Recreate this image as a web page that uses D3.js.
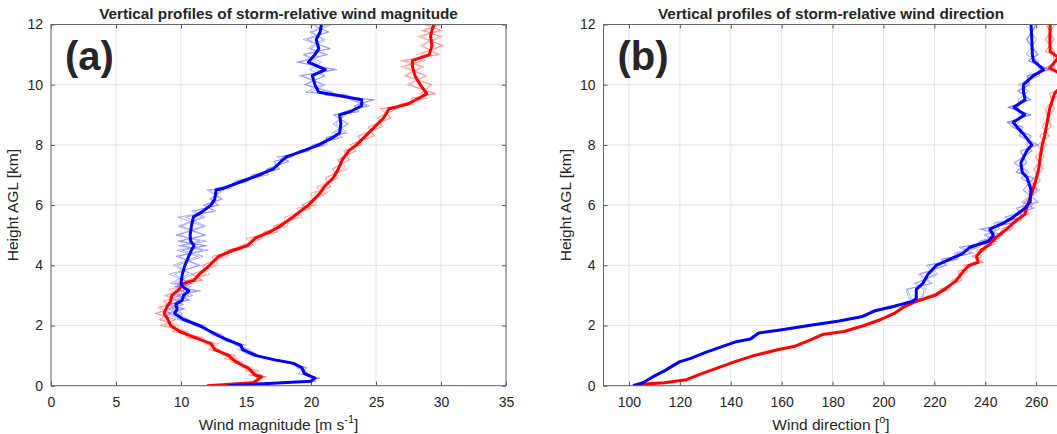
<!DOCTYPE html>
<html>
<head>
<meta charset="utf-8">
<script src="https://cdn.jsdelivr.net/npm/d3@7"></script>
<style>
  body { margin: 0; background: #fff; }
  svg { display: block; }
  text { font-family: Arial, "Liberation Sans", sans-serif; fill: #262626; }
</style>
</head>
<body>
<svg id="chart" width="1057" height="434"></svg>
<script>
// ---- panel (a): storm-relative wind magnitude [m/s] vs height [km] ----
const blueMagH = [0,0.15,0.25,0.4,0.6,0.75,0.85,1.0,1.2,1.35,1.5,1.7,2.0,2.2,2.4,2.55,2.7,2.85,3.0,3.15,3.3,3.4,3.7,4.0,4.3,4.5,4.65,4.8,5.0,5.3,5.6,5.8,6.0,6.2,6.5,6.55,6.8,7.0,7.2,7.45,7.6,7.8,8.0,8.25,8.4,8.7,9.0,9.1,9.3,9.5,9.65,9.75,10.0,10.3,10.5,10.75,11.0,11.2,11.5,11.75,12.0];
const blueMag  = [13.6,20.0,20.3,19.5,19.3,18.6,17.3,15.8,14.75,14.6,13.7,12.7,11.4,10.2,9.5,9.7,9.6,10.1,10.2,10.6,10.1,10.0,10.1,10.3,10.6,10.8,11.0,10.75,10.7,10.8,10.95,11.7,12.3,12.6,12.7,13.2,14.75,16.0,17.1,17.7,18.1,19.4,20.6,21.7,22.2,22.3,22.2,23.0,23.9,23.9,22.0,20.6,20.3,20.1,21.1,19.8,20.3,20.6,20.4,20.7,20.8];
const redMagH  = [0,0.1,0.3,0.35,0.5,0.6,0.8,0.9,1.0,1.2,1.4,1.6,1.8,2.0,2.2,2.4,2.6,2.8,3.0,3.2,3.4,3.5,3.7,4.0,4.3,4.5,4.65,4.9,5.1,5.3,5.6,5.9,6.0,6.4,6.6,6.9,7.2,7.5,7.8,8.0,8.3,8.6,8.9,9.2,9.35,9.55,9.7,10.0,10.3,10.6,10.8,11.0,11.3,11.6,11.8,12.0];
const redMag   = [12.0,15.6,16.2,15.7,15.4,15.1,14.2,13.9,13.7,12.6,12.3,11.1,9.9,9.2,9.0,8.7,8.9,9.2,9.3,9.85,10.2,11.0,11.4,12.2,12.9,14.0,15.1,15.7,16.8,17.6,18.6,19.5,19.8,20.7,21.0,21.7,22.1,22.4,22.9,23.5,24.2,24.9,25.6,26.0,27.4,28.3,28.9,28.4,28.0,27.8,27.8,29.1,29.3,29.2,29.3,29.45];

// ensemble members, offsets from the mean in tenths of m/s
const blueMagMembers = [
  [0,2,-3,4,-2,3,-4,2,5,-3,4,-2,3,-5,6,-4,5,-7,4,-6,7,-5,8,-9,7,-11,8,-10,12,-8,9,-7,5,-4,6,-3,5,-6,4,-5,3,-4,6,-5,4,-6,5,-3,6,-7,9,-6,8,-10,7,-9,8,-6,7,-8,5],
  [0,-3,4,-2,3,-4,2,-3,-2,4,-3,5,-4,2,-5,6,-4,5,-8,6,-5,7,-6,10,-8,9,-12,7,-9,11,-6,8,-4,6,-5,4,-6,3,-5,6,-4,5,-3,4,-6,5,-4,6,-5,8,-6,9,-8,10,-7,6,-9,8,-7,6,-6],
  [0,4,-2,3,-4,2,5,-3,-4,2,-5,3,-2,4,3,-7,6,-4,7,-5,4,-8,5,-6,11,-7,10,-8,11,-10,7,-9,6,-3,4,-6,3,-4,5,-6,5,-3,4,-5,6,-4,3,-5,4,-9,7,-10,6,-8,9,-7,10,-8,5,-6,8],
  [0,-4,3,-5,4,-2,3,-4,3,-5,2,-4,5,-3,-7,5,-8,6,-5,9,-6,8,-10,12,-10,13,-9,12,-11,9,-12,10,-6,5,-7,6,-4,7,-5,6,-7,4,-5,7,-4,6,-5,7,-6,10,-9,11,-7,9,-12,10,-8,9,-10,7,-9]
];
const redMagMembers = [
  [0,3,-4,5,-3,4,-2,5,-4,3,-5,6,-5,7,-6,5,-7,6,-4,7,-5,6,-6,4,-5,3,-6,5,-4,6,-3,5,-5,4,-6,3,-4,5,-3,4,-5,6,-4,5,-6,4,-5,8,-7,9,-6,8,-9,7,-6,5],
  [0,-4,3,-5,4,-3,5,-2,4,-5,3,-6,7,-5,6,-7,5,-6,7,-4,6,-5,5,-5,4,-6,3,-4,6,-5,4,-3,6,-4,5,-6,4,-3,5,-5,6,-4,5,-6,4,-5,6,-8,9,-6,7,-10,8,-7,6,-5],
  [0,5,-3,4,-5,2,-4,3,-5,4,-3,5,-6,4,-7,6,-5,7,-6,5,-4,7,-5,6,-3,5,-4,6,-5,3,-6,4,-5,6,-3,4,-5,6,-4,3,-6,5,-5,6,-4,6,-4,9,-8,7,-9,6,-7,9,-8,6],
  [0,-5,4,-3,6,-4,3,-6,5,-4,6,-7,5,-8,6,-6,8,-5,6,-8,7,-6,8,-6,7,-4,5,-7,6,-5,7,-6,4,-7,5,-6,7,-4,6,-5,7,-5,6,-7,5,-6,7,-10,8,-9,10,-7,9,-10,8,-7]
];

// ---- panel (b): storm-relative wind direction [deg] vs height [km] ----
const blueDirH = [0,0.1,0.3,0.5,0.7,0.8,0.9,1.1,1.3,1.45,1.55,1.75,1.85,2.0,2.15,2.3,2.5,2.6,2.8,2.9,3.2,3.4,3.7,4.0,4.2,4.4,4.6,4.8,5.0,5.2,5.4,5.6,5.9,6.1,6.5,6.9,7.1,7.4,7.8,8.0,8.3,8.6,8.75,9.0,9.25,9.5,9.8,10.0,10.3,10.5,10.8,11.0,11.5,12.0];
const blueDir  = [101.6,105.5,109.5,114.1,118.0,120.0,124.0,129.9,136.5,141.7,147.7,151.0,159.5,170.7,182.6,191.8,197.0,202.3,211.5,212.9,212.9,215.5,217.5,220.8,226.0,231.3,233.9,241.2,243.2,241.8,247.1,251.0,255.6,257.6,258.0,256.5,254.5,254.0,256.3,258.3,255.6,252.4,251.0,255.5,251.3,255.6,255.0,255.0,258.9,262.9,258.9,258.5,258.3,258.0];
const redDirH  = [0,0.05,0.1,0.2,0.4,0.6,0.8,1.0,1.2,1.3,1.5,1.7,1.8,2.0,2.2,2.4,2.6,2.8,3.0,3.2,3.5,3.8,4.0,4.1,4.3,4.5,4.7,4.9,5.2,5.5,5.7,6.0,6.5,6.8,7.2,7.6,8.0,8.3,8.6,9.2,9.7,10.0,10.35,10.55,10.9,11.1,11.5,12.0];
const redDir   = [102.2,104.9,114.0,122.6,128.6,135.2,141.7,149.0,158.8,164.8,170.7,176.0,184.5,192.4,199.0,204.3,207.6,212.9,220.1,224.0,228.7,231.3,233.7,237.2,236.6,238.5,241.8,243.8,248.4,252.4,255.6,256.6,258.7,259.8,261.0,261.6,262.4,263.3,264.0,265.3,267.2,270.5,270.0,265.3,268.8,265.5,265.4,265.5];

// ensemble members, offsets from the mean in tenths of a degree
const blueDirMembers = [
  [0,8,-6,10,-8,7,-10,9,-7,10,-8,9,-6,8,-10,12,-15,18,-20,25,30,-35,40,-30,35,-25,38,-30,32,-40,28,-35,30,-25,35,-25,20,-28,22,-18,25,-20,24,-22,18,-26,20,-22,25,-18,20,-24,18,-20],
  [0,-7,9,-8,6,-10,8,-6,10,-9,7,-8,10,-7,12,-10,18,-15,22,-20,-35,30,-38,35,-28,40,-32,30,-36,25,-38,32,-28,35,-30,22,-25,20,-24,26,-20,18,-25,22,-20,24,-18,22,-26,20,-18,22,-20,18],
  [0,6,-9,7,-10,9,-7,8,-9,6,10,-7,-9,10,-8,15,-12,20,-25,15,40,-25,30,-40,28,-35,25,-38,40,-30,35,-28,38,-32,25,-20,28,-22,18,-25,22,-18,-24,26,-22,18,-20,26,-22,24,-20,18,-22,24],
  [0,-9,7,-6,9,-8,10,-7,8,-10,9,-6,8,-12,10,-14,15,-22,18,-30,-40,38,-30,42,-35,30,-42,36,-30,38,-28,40,-35,28,-32,28,-22,25,-26,20,-24,26,-20,22,-25,20,-24,18,-22,26,-20,24,-18,20]
];
const redDirMembers = [
  [0,6,-8,7,-5,8,-7,6,-8,5,-7,8,-6,7,-8,6,-9,10,15,-20,18,-22,20,-15,22,-18,20,-16,18,-20,15,-18,15,-18,20,-15,18,-20,16,-18,15,-20,18,-16,20,-18,15,-16],
  [0,-7,6,-8,7,-6,8,-5,7,-8,6,-7,8,-6,5,-8,10,-9,-18,22,-15,20,-22,18,-20,15,-22,20,-18,16,-20,18,-16,20,-18,15,-20,18,-15,20,-18,16,-15,20,-18,16,-20,18],
  [0,8,-5,6,-8,5,-6,8,-7,6,-5,7,-8,6,-7,8,-6,-8,20,-15,22,-18,15,-20,18,-22,16,-18,22,-15,18,-20,18,-15,16,-20,15,-18,20,-16,18,-15,20,-18,15,-20,18,-15],
  [0,-6,8,-7,6,-8,5,-7,8,-6,7,-5,6,-8,7,-6,9,-10,-22,18,-20,15,-18,22,-16,20,-18,15,-20,18,-16,20,-18,16,-20,18,-15,20,-18,16,-20,18,-16,15,-20,18,-15,18]
];

const heightTicks = [0, 2, 4, 6, 8, 10, 12];
const magTicks = [0, 5, 10, 15, 20, 25, 30, 35];
const dirTicks = [100, 120, 140, 160, 180, 200, 220, 240, 260];

const svg = d3.select('#chart');
const plotTop = 24.5, plotBottom = 385.7;

const panels = [
  { id: 'a', left: 51, right: 506, domain: [0, 35], ticks: magTicks,
    title: 'Vertical profiles of storm-relative wind magnitude',
    xlabel: ['Wind magnitude [m s', '-1', ']'],
    series: [
      { h: redMagH, v: redMag, members: redMagMembers, color: '#ff0000', pale: '#ff7070' },
      { h: blueMagH, v: blueMag, members: blueMagMembers, color: '#0000ff', pale: '#7070ff' }
    ] },
  { id: 'b', left: 603.5, right: 1061.6, domain: [90, 270], ticks: dirTicks,
    title: 'Vertical profiles of storm-relative wind direction',
    xlabel: ['Wind direction [', 'o', ']'],
    series: [
      { h: redDirH, v: redDir, members: redDirMembers, color: '#ff0000', pale: '#ff7070' },
      { h: blueDirH, v: blueDir, members: blueDirMembers, color: '#0000ff', pale: '#7070ff' }
    ] }
];

function drawPanel(p){
  const x = d3.scaleLinear().domain(p.domain).range([p.left, p.right]);
  const y = d3.scaleLinear().domain([0, 12]).range([plotBottom, plotTop]);
  const g = svg.append('g');

  g.append('clipPath').attr('id', 'clip-' + p.id)
    .append('rect').attr('x', p.left).attr('y', plotTop)
    .attr('width', p.right - p.left).attr('height', plotBottom - plotTop);

  // grid
  g.selectAll('.gx').data(p.ticks).enter().append('line')
    .attr('x1', d => x(d)).attr('x2', d => x(d)).attr('y1', plotTop).attr('y2', plotBottom)
    .attr('stroke', '#e4e4e4').attr('stroke-width', 1);
  g.selectAll('.gy').data(heightTicks).enter().append('line')
    .attr('x1', p.left).attr('x2', p.right).attr('y1', d => y(d)).attr('y2', d => y(d))
    .attr('stroke', '#e4e4e4').attr('stroke-width', 1);

  // axes with inward ticks (all four sides)
  const tickLen = 4;
  g.append('g').attr('transform', `translate(0,${plotBottom})`)
    .call(d3.axisBottom(x).tickValues(p.ticks).tickSizeInner(-tickLen).tickSizeOuter(0).tickPadding(11));
  g.append('g').attr('transform', `translate(0,${plotTop})`)
    .call(d3.axisTop(x).tickValues(p.ticks).tickSizeInner(-tickLen).tickSizeOuter(0).tickFormat(''));
  g.append('g').attr('transform', `translate(${p.left},0)`)
    .call(d3.axisLeft(y).tickValues(heightTicks).tickSizeInner(-tickLen).tickSizeOuter(0).tickPadding(8));
  g.append('g').attr('transform', `translate(${p.right},0)`)
    .call(d3.axisRight(y).tickValues(heightTicks).tickSizeInner(-tickLen).tickSizeOuter(0).tickFormat(''));
  g.selectAll('.domain').remove();
  g.selectAll('.tick line').attr('stroke', '#555');
  g.selectAll('.tick text').attr('font-size', 14).attr('fill', '#262626')
    .attr('font-family', 'Arial, "Liberation Sans", sans-serif');

  // data: faint ensemble members first, then the thick means
  const plot = g.append('g').attr('clip-path', `url(#clip-${p.id})`);
  p.series.forEach(s => {
    s.members.forEach(off => {
      const pts = s.v.map((v, i) => [v + (off[i] || 0) / 10, s.h[i]]);
      plot.append('path')
        .attr('d', d3.line().x(d => x(d[0])).y(d => y(d[1]))(pts))
        .attr('fill', 'none').attr('stroke', s.pale).attr('stroke-width', 1)
        .attr('stroke-opacity', 0.55);
    });
  });
  p.series.forEach(s => {
    const pts = s.v.map((v, i) => [v, s.h[i]]);
    plot.append('path')
      .attr('d', d3.line().x(d => x(d[0])).y(d => y(d[1]))(pts))
      .attr('fill', 'none').attr('stroke', s.color).attr('stroke-width', 3)
      .attr('stroke-linejoin', 'round');
  });

  // box
  g.append('rect').attr('x', p.left).attr('y', plotTop)
    .attr('width', p.right - p.left).attr('height', plotBottom - plotTop)
    .attr('fill', 'none').attr('stroke', '#666').attr('stroke-width', 1);

  const cx = (p.left + Math.min(p.right, p.left + 455)) / 2;
  g.append('text').attr('x', cx).attr('y', 19).attr('text-anchor', 'middle')
    .attr('font-size', 15.3).attr('font-weight', 'bold').attr('fill', '#000').text(p.title);

  const xl = g.append('text').attr('x', cx).attr('y', 430).attr('text-anchor', 'middle')
    .attr('font-size', 15.5).attr('fill', '#262626');
  xl.append('tspan').text(p.xlabel[0]);
  xl.append('tspan').attr('dy', -7).attr('font-size', 11).text(p.xlabel[1]);
  xl.append('tspan').attr('dy', 7).text(p.xlabel[2]);

  g.append('text').attr('transform', `translate(${p.left - 33},${(plotTop + plotBottom) / 2}) rotate(-90)`)
    .attr('text-anchor', 'middle').attr('font-size', 15.5).attr('fill', '#262626')
    .text('Height AGL [km]');

  g.append('text').attr('x', p.left + 14).attr('y', 70)
    .attr('font-family', 'Lato, "Open Sans", sans-serif').attr('font-weight', 'bold')
    .attr('font-size', 40).attr('fill', '#000').text('(' + p.id + ')');
}

panels.forEach(drawPanel);
</script>
</body>
</html>
